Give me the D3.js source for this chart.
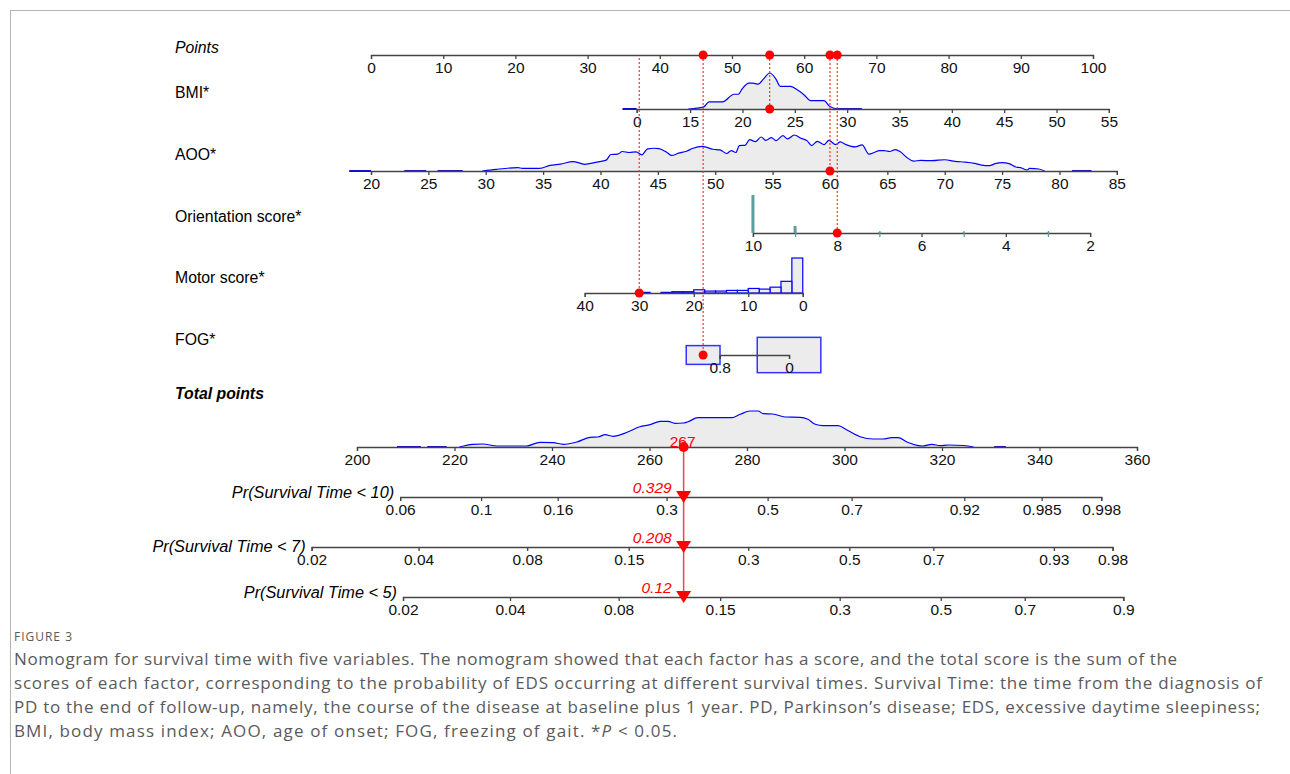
<!DOCTYPE html>
<html>
<head>
<meta charset="utf-8">
<script src="https://cdn.jsdelivr.net/npm/d3@7"></script>
<style>
body { margin: 0; background: #fff; }
#frame { position: absolute; left: 10px; top: 10px; width: 1290px; height: 774px;
  border-left: 1px solid #b4b4b4; border-top: 1px solid #b4b4b4; }
svg { position: absolute; left: 0; top: 0; }
svg text { font-family: "Liberation Sans", Arial, sans-serif; }
.axis path, .axis line { stroke: #444; stroke-width: 1.3; }
.axis text { font-size: 15.5px; fill: #111; }
svg text.cap { font-family: "Open Sans", sans-serif; fill: #5a5a5a; }
</style>
</head>
<body>
<div id="frame"></div>
<svg id="chart" width="1290" height="774"></svg>
<script>
//values

//Points axis
const pointTicks = [0, 10, 20, 30, 40, 50, 60, 70, 80, 90, 100];

//BMI: tick values and the points they sit at
const bmiTicks = [0, 15, 20, 25, 30, 35, 40, 45, 50, 55];
const bmiKnots = [0, 15, 55];
const bmiKnotPts = [36.8, 44.2, 102.2];
const bmiDensity = [[14.5,0],[16.3,0.06],[16.8,0.2],[18.1,0.2],[19.2,0.41],[19.6,0.41],[20.0,0.57],[20.6,0.72],[21.0,0.72],[21.5,0.69],[22.0,0.83],[22.6,1],[23.2,0.83],[23.6,0.63],[24.6,0.63],[25.3,0.52],[25.9,0.39],[26.5,0.23],[27.8,0.23],[28.3,0.08],[29.0,0]];
const bmiTails = [[-4, 0], [28.9, 31.4]];

//AOO
const aooTicks = [20, 25, 30, 35, 40, 45, 50, 55, 60, 65, 70, 75, 80, 85];
const aooKnots = [20, 85];
const aooKnotPts = [0, 103.3];
const aooDensity = [[29.7,0],[30.9,1.7],[32.8,3.4],[33.2,2.7],[34.7,2.7],[35.6,5.7],[36.5,7],[37.6,9.4],[38.2,8],[38.6,6.7],[39.7,9],[40.5,11],[40.9,16.7],[41.5,17],[41.9,19.7],[42.5,18.7],[43.1,19.4],[43.6,16.4],[44.1,22.4],[44.7,23],[45.1,22.7],[45.8,18.7],[46.2,15.7],[46.8,18],[47.5,20],[48,22.7],[48.9,25],[49.8,22],[50.4,21.4],[51,17.7],[51.4,20.7],[51.8,18.7],[52.1,25.7],[52.6,26],[53,31.7],[53.5,29.7],[54,34.4],[54.4,31],[54.9,33.7],[55.3,30.7],[55.9,35.7],[56.3,32.4],[56.9,36.4],[57.5,33],[58,30.7],[58.4,25.7],[58.9,30],[59.5,26.7],[59.9,31],[60.5,26.7],[60.9,29.4],[61.4,26.7],[62.2,24.4],[62.8,26.4],[63.4,17],[63.9,19],[64.3,20.7],[64.7,20.7],[65.2,19.7],[65.7,21.7],[66.1,19.7],[66.7,13.7],[67.3,10],[67.9,10.7],[68.9,10.4],[70,11.4],[70.9,9.7],[71.8,9],[72.6,7.7],[73.2,6],[73.9,5.4],[74.4,7.4],[75,8.4],[75.6,7.4],[76.2,4],[76.6,3.4],[77.2,1],[77.4,2.7],[78.2,2],[78.7,0]];
const aooTails = [[18.1, 20], [22.9, 24.8], [25.8, 28], [81.1, 82.8]];

//Orientation score
const oriTicks = [10, 9, 8, 7, 6, 5, 4, 3, 2];
const oriKnots = [10, 2];
const oriKnotPts = [52.9, 99.6];
const oriValues = [10, 9, 7, 5, 3];
const oriCounts = [140, 26, 3, 2, 2];

//Motor score
const motorTicks = [40, 30, 20, 10, 0];
const motorKnots = [40, 0];
const motorKnotPts = [29.6, 59.8];
const motorBinStart = [0, 2, 4, 6, 8, 10, 12, 14, 16, 18, 20, 22, 24, 28];
const motorCounts = [54, 18, 9, 6, 7, 4, 4, 3, 3, 5, 2, 2, 1, 1];

//FOG
const fogLabels = ['0.8', '0'];
const fogTickPts = [48.3, 57.9];
const fogBoxPts = [46.0, 57.9];
const fogFreq = [0.22, 0.78];

//Total points
const totalTicks = [200, 220, 240, 260, 280, 300, 320, 340, 360];
const totalDensity = [[221,0],[223.8,2.7],[225.8,3],[228.7,1],[234.8,1],[237.5,4.7],[240.3,4.3],[242.3,2.7],[245.1,5],[247.8,9.7],[249.4,10],[250.9,12.3],[252.5,10.7],[255.4,14.7],[258,20.3],[260.1,22.3],[262.2,25.7],[263.8,25.7],[265.2,23.7],[266.9,24],[267.9,25.3],[269.9,29.3],[272.4,29.3],[276.9,29.3],[278.6,32.7],[280.6,36],[282.3,36],[283.3,33.3],[285.3,33],[287.8,30],[290.9,29.7],[292.5,27.7],[294,22.7],[295.6,21.3],[298.7,21.3],[300.5,17],[303.2,10.3],[305.9,8],[307.9,8],[309.7,9.3],[311,9.3],[312.8,5],[314.9,1.7],[316.1,1],[317.9,2.7],[319.6,1.3],[321.3,2],[324.5,1.5],[326.5,0]];
const totalTails = [[208.2, 213.1], [214.4, 218.4], [330.7, 333.1]];

//Probability axes
const prNames = ['Pr(Survival Time < 10)', 'Pr(Survival Time < 7)', 'Pr(Survival Time < 5)'];
const prTicks10 = [0.06, 0.1, 0.16, 0.3, 0.5, 0.7, 0.92, 0.985, 0.998];
const prTicks7 = [0.02, 0.04, 0.08, 0.15, 0.3, 0.5, 0.7, 0.93, 0.98];
const prTicks5 = [0.02, 0.04, 0.08, 0.15, 0.3, 0.5, 0.7, 0.9];
const prHit = [0.329, 0.208, 0.12];
const pointsPerCloglog = 31.2;

//the patient that is marked in red
const patient = { bmi: 22.6, aoo: 60, ori: 8, motor: 30, fog: 0, total: 267 };

//caption lines
const captionLines = [
    'Nomogram for survival time with five variables. The nomogram showed that each factor has a score, and the total score is the sum of the',
    'scores of each factor, corresponding to the probability of EDS occurring at different survival times. Survival Time: the time from the diagnosis of',
    'PD to the end of follow-up, namely, the course of the disease at baseline plus 1 year. PD, Parkinson\u2019s disease; EDS, excessive daytime sleepiness;',
    'BMI, body mass index; AOO, age of onset; FOG, freezing of gait. *'
];
const captionWidths = [1163, 1248, 1246, 663];

//Layout
const svg = d3.select('#chart');
const LABEL_X = 175;
const ptsX = d3.scaleLinear().domain([0, 100]).range([371, 1093]);
const totX = d3.scaleLinear().domain([200, 360]).range([357, 1137]);
const rowY = { points: 55, bmi: 109, aoo: 171, ori: 233, motor: 293, fog: 355, total: 447 };
const prY = [497, 547, 597];
const DENS_H = 36;

//value -> x for each variable (through points)
const bmiX = d3.scaleLinear().domain(bmiKnots).range(bmiKnotPts.map(ptsX));
const aooX = d3.scaleLinear().domain(aooKnots).range(aooKnotPts.map(ptsX));
const oriX = d3.scaleLinear().domain(oriKnots).range(oriKnotPts.map(ptsX));
const motorX = d3.scaleLinear().domain(motorKnots).range(motorKnotPts.map(ptsX));

function drawAxis(scale, y, ticks, fmt) {
    let ax = d3.axisBottom(scale).tickValues(ticks).tickSizeOuter(0).tickSize(4).tickPadding(3);
    if (fmt) ax.tickFormat(fmt);
    return svg.append('g').attr('class', 'axis')
    .attr('transform', `translate(0,${y})`)
    .call(ax);
}

//density shape sitting on an axis
function drawDensity(data, tails, xf, y) {
    const hScale = d3.scaleLinear().domain([0, d3.max(data, d => d[1])]).range([0, DENS_H]);
    const area = d3.area().x(d => xf(d[0])).y0(y).y1(d => y - hScale(d[1])).curve(d3.curveMonotoneX);
    const line = d3.line().x(d => xf(d[0])).y(d => y - hScale(d[1])).curve(d3.curveMonotoneX);
    svg.append('path').attr('d', area(data)).style('fill', '#ececec');
    svg.append('path').attr('d', line(data)).style('fill', 'none').style('stroke', '#0000ff').style('stroke-width', 1.2);
    svg.selectAll(null).data(tails).enter()
    .append('line')
    .attr('x1', d => xf(d[0])).attr('x2', d => xf(d[1]))
    .attr('y1', y).attr('y2', y)
    .style('stroke', '#1010d0').style('stroke-width', 2);
}

//row labels
const rowLabels = [
    { t: 'Points', y: 53, it: true, b: false },
    { t: 'BMI*', y: 98, it: false, b: false },
    { t: 'AOO*', y: 160, it: false, b: false },
    { t: 'Orientation score*', y: 222, it: false, b: false },
    { t: 'Motor score*', y: 283, it: false, b: false },
    { t: 'FOG*', y: 345, it: false, b: false },
    { t: 'Total points', y: 399, it: true, b: true }
];
svg.selectAll(null).data(rowLabels).enter()
.append('text')
.attr('x', LABEL_X).attr('y', d => d.y)
.style('font-size', '15.8px')
.style('font-style', d => d.it ? 'italic' : 'normal')
.style('font-weight', d => d.b ? 'bold' : 'normal')
.text(d => d.t);

//Points
drawAxis(ptsX, rowY.points, pointTicks);

//BMI
drawDensity(bmiDensity, bmiTails, bmiX, rowY.bmi);
drawAxis(bmiX, rowY.bmi, bmiTicks);

//AOO
drawDensity(aooDensity, aooTails, aooX, rowY.aoo);
drawAxis(aooX, rowY.aoo, aooTicks);

//Orientation
const oriH = d3.scaleLinear().domain([0, d3.max(oriCounts)]).range([0, 38]);
let oriAxis = drawAxis(oriX, rowY.ori, oriTicks, d => d % 2 === 0 ? d : '');
oriAxis.selectAll('.tick').filter(d => d % 2 === 1).select('line')
.attr('y1', -2).style('stroke', '#5f9ea0');
svg.selectAll(null).data(oriValues).enter()
.append('rect')
.attr('x', d => oriX(d) - 1.5)
.attr('y', (d, i) => rowY.ori - oriH(oriCounts[i]))
.attr('width', 3)
.attr('height', (d, i) => oriH(oriCounts[i]))
.style('fill', '#5f9ea0');

//Motor
const motorH = d3.scaleLinear().domain([0, d3.max(motorCounts)]).range([0, 35]);
svg.selectAll(null).data(motorBinStart).enter()
.append('rect')
.attr('x', d => motorX(d + 2))
.attr('y', (d, i) => rowY.motor - motorH(motorCounts[i]))
.attr('width', d => motorX(d) - motorX(d + 2))
.attr('height', (d, i) => motorH(motorCounts[i]))
.style('fill', '#ececec').style('stroke', '#0000ff').style('stroke-width', 1.2);
drawAxis(motorX, rowY.motor, motorTicks);

//FOG boxes then axis
svg.selectAll(null).data(fogBoxPts).enter()
.append('rect')
.attr('x', (d, i) => ptsX(d) - 36 * Math.sqrt(fogFreq[i]))
.attr('y', (d, i) => rowY.fog - 20 * Math.sqrt(fogFreq[i]))
.attr('width', (d, i) => 72 * Math.sqrt(fogFreq[i]))
.attr('height', (d, i) => 40 * Math.sqrt(fogFreq[i]))
.style('fill', '#ececec').style('stroke', '#3333ff').style('stroke-width', 1.5);
const fogX = d3.scaleLinear().domain([0, 1]).range(fogTickPts.map(ptsX));
drawAxis(fogX, rowY.fog, [0, 1], (d, i) => fogLabels[i]);

//Total points
drawDensity(totalDensity, totalTails, totX, rowY.total);
drawAxis(totX, rowY.total, totalTicks);

//Probability axes, cloglog is linear in total points
const cloglog = p => Math.log(-Math.log(1 - p));
const prTicks = [prTicks10, prTicks7, prTicks5];
prTicks.forEach(function(ticks, i) {
    const toTotal = p => patient.total + (cloglog(p) - cloglog(prHit[i])) * pointsPerCloglog;
    const first = ticks[0];
    const last = ticks[ticks.length - 1];
    const sc = d3.scaleLinear()
    .domain([cloglog(first), cloglog(last)])
    .range([totX(toTotal(first)), totX(toTotal(last))]);
    drawAxis(sc, prY[i], ticks.map(cloglog), (d, j) => ticks[j]);
    svg.append('text')
    .attr('x', sc.range()[0] - 6)
    .attr('y', prY[i] + (i === 1 ? 5 : 1))
    .attr('text-anchor', 'end')
    .style('font-size', '16.3px').style('font-style', 'italic')
    .text(prNames[i]);
});

//Red reading lines
const hitX = totX(patient.total);
const marks = [
    { p: d3.scaleLinear().domain(bmiKnots).range(bmiKnotPts)(patient.bmi), x: bmiX(patient.bmi), y: rowY.bmi, top: true },
    { p: d3.scaleLinear().domain(aooKnots).range(aooKnotPts)(patient.aoo), x: aooX(patient.aoo), y: rowY.aoo, top: true },
    { p: d3.scaleLinear().domain(oriKnots).range(oriKnotPts)(patient.ori), x: oriX(patient.ori), y: rowY.ori, top: true },
    { p: d3.scaleLinear().domain(motorKnots).range(motorKnotPts)(patient.motor), x: motorX(patient.motor), y: rowY.motor, top: false },
    { p: fogBoxPts[patient.fog], x: ptsX(fogBoxPts[patient.fog]), y: rowY.fog, top: true }
];

svg.selectAll(null).data(marks).enter()
.append('line')
.attr('x1', d => d.x).attr('x2', d => d.x)
.attr('y1', d => d.top ? rowY.points : rowY.points + 3)
.attr('y2', d => d.y)
.style('stroke', '#ff2020').style('stroke-width', 1.1).style('stroke-dasharray', '2,2');

svg.selectAll(null).data(marks.filter(d => d.top)).enter()
.append('circle')
.attr('cx', d => ptsX(d.p)).attr('cy', rowY.points).attr('r', 4.5)
.style('fill', '#ff0000');

svg.selectAll(null).data(marks).enter()
.append('circle')
.attr('cx', d => d.x).attr('cy', d => d.y).attr('r', 4.5)
.style('fill', '#ff0000');

//total line and probability markers
svg.append('line')
.attr('x1', hitX).attr('x2', hitX)
.attr('y1', rowY.total).attr('y2', prY[2])
.style('stroke', '#ff4040').style('stroke-width', 1.5);

svg.append('text')
.attr('x', hitX - 1).attr('y', rowY.total)
.attr('text-anchor', 'middle')
.style('font-size', '15.5px').style('fill', '#ff0000')
.text(patient.total);

svg.append('circle')
.attr('cx', hitX).attr('cy', rowY.total).attr('r', 5)
.style('fill', '#ff0000');

svg.selectAll(null).data(prHit).enter()
.append('path')
.attr('d', (d, i) => `M${hitX - 7.5},${prY[i] - 6} L${hitX + 7.5},${prY[i] - 6} L${hitX},${prY[i] + 6} Z`)
.style('fill', '#ff0000');

svg.selectAll(null).data(prHit).enter()
.append('text')
.attr('x', hitX - 12)
.attr('y', (d, i) => prY[i] - 4)
.attr('text-anchor', 'end')
.style('font-size', '15.5px').style('font-style', 'italic').style('fill', '#ff0000')
.text(d => d);

//caption
svg.append('text')
.attr('class', 'cap')
.attr('x', 14).attr('y', 641)
.attr('textLength', 58).attr('lengthAdjust', 'spacing')
.style('font-size', '12px')
.text('FIGURE 3');

let capText = svg.selectAll(null).data(captionLines).enter()
.append('text')
.attr('class', 'cap')
.attr('x', 14)
.attr('y', (d, i) => 665 + i * 24)
.attr('textLength', (d, i) => captionWidths[i])
.attr('lengthAdjust', 'spacing')
.style('font-size', '17px')
.text(d => d);

//last line ends with an italic P
d3.select(capText.nodes()[3]).append('tspan').style('font-style', 'italic').text('P');
d3.select(capText.nodes()[3]).append('tspan').text(' < 0.05.');
</script>
</body>
</html>
